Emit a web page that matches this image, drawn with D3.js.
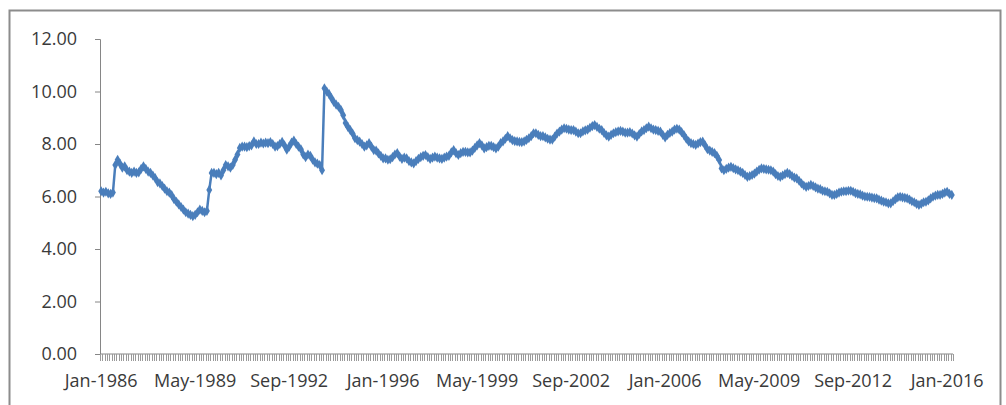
<!DOCTYPE html>
<html>
<head>
<meta charset="utf-8">
<script src="https://cdn.jsdelivr.net/npm/d3@7"></script>
<style>
  body { margin: 0; background: #fff; }
  svg { display: block; }
  .axis text { font-family: "Open Sans", "Liberation Sans", Arial, sans-serif; font-size: 18px; fill: #3a3a3a; }
</style>
</head>
<body>
<svg id="chart" width="1006" height="405"></svg>
<script>
// monthly series, Jan-1986 .. Mar-2016
const startMonth = new Date(1986, 0, 1);
const rates = [
  6.20, 6.15, 6.18, 6.12, 6.10, 6.15, 7.20, 7.40, 7.25, 7.10, 7.15, 7.00, // 1986
  6.95, 6.90, 6.95, 6.90, 6.92, 7.05, 7.15, 7.05, 6.95, 6.90, 6.80, 6.70, // 1987
  6.55, 6.50, 6.40, 6.30, 6.20, 6.15, 6.05, 5.90, 5.80, 5.70, 5.60, 5.50, // 1988
  5.40, 5.35, 5.30, 5.25, 5.30, 5.40, 5.50, 5.45, 5.40, 5.45, 6.25, 6.90, // 1989
  6.90, 6.85, 6.90, 6.80, 7.00, 7.20, 7.15, 7.10, 7.20, 7.40, 7.60, 7.85, // 1990
  7.90, 7.90, 7.88, 7.92, 7.95, 8.10, 8.00, 8.00, 8.05, 8.02, 8.05, 8.03, // 1991
  8.07, 8.00, 7.90, 7.92, 8.00, 8.08, 7.95, 7.78, 7.90, 8.05, 8.13, 8.00, // 1992
  7.90, 7.80, 7.60, 7.50, 7.60, 7.55, 7.40, 7.30, 7.25, 7.20, 7.00, 10.12, // 1993
  10.00, 9.90, 9.75, 9.60, 9.50, 9.42, 9.30, 9.10, 8.80, 8.65, 8.53, 8.40, // 1994
  8.22, 8.15, 8.09, 8.00, 7.90, 7.95, 8.03, 7.90, 7.77, 7.75, 7.64, 7.55, // 1995
  7.45, 7.45, 7.40, 7.42, 7.50, 7.60, 7.65, 7.52, 7.43, 7.48, 7.45, 7.35, // 1996
  7.30, 7.26, 7.35, 7.43, 7.50, 7.55, 7.58, 7.50, 7.43, 7.48, 7.52, 7.48, // 1997
  7.45, 7.43, 7.48, 7.52, 7.55, 7.68, 7.77, 7.65, 7.58, 7.65, 7.70, 7.70, // 1998
  7.68, 7.68, 7.75, 7.85, 7.95, 8.03, 7.95, 7.83, 7.88, 7.93, 7.93, 7.88, // 1999
  7.83, 7.90, 8.03, 8.10, 8.20, 8.30, 8.22, 8.15, 8.11, 8.10, 8.08, 8.07, // 2000
  8.10, 8.16, 8.22, 8.30, 8.41, 8.41, 8.35, 8.30, 8.30, 8.25, 8.20, 8.17, // 2001
  8.17, 8.28, 8.40, 8.47, 8.55, 8.60, 8.58, 8.55, 8.53, 8.53, 8.47, 8.41, // 2002
  8.41, 8.48, 8.52, 8.55, 8.62, 8.68, 8.72, 8.65, 8.58, 8.53, 8.42, 8.33, // 2003
  8.28, 8.35, 8.41, 8.45, 8.48, 8.50, 8.47, 8.43, 8.43, 8.45, 8.40, 8.33, // 2004
  8.28, 8.38, 8.48, 8.53, 8.60, 8.66, 8.60, 8.55, 8.53, 8.50, 8.47, 8.35, // 2005
  8.25, 8.35, 8.42, 8.47, 8.55, 8.58, 8.55, 8.45, 8.34, 8.20, 8.10, 8.03, // 2006
  8.00, 7.97, 8.02, 8.07, 8.09, 7.95, 7.80, 7.75, 7.70, 7.65, 7.55, 7.39, // 2007
  7.07, 7.00, 7.05, 7.10, 7.13, 7.08, 7.03, 7.00, 6.95, 6.90, 6.82, 6.75, // 2008
  6.78, 6.82, 6.87, 6.95, 7.02, 7.07, 7.05, 7.03, 7.02, 7.00, 6.95, 6.85, // 2009
  6.78, 6.75, 6.80, 6.85, 6.90, 6.85, 6.78, 6.72, 6.69, 6.60, 6.50, 6.42, // 2010
  6.37, 6.40, 6.44, 6.40, 6.35, 6.30, 6.28, 6.22, 6.20, 6.18, 6.12, 6.06, // 2011
  6.06, 6.10, 6.15, 6.18, 6.20, 6.20, 6.22, 6.22, 6.18, 6.13, 6.10, 6.08, // 2012
  6.03, 6.00, 5.99, 5.98, 5.96, 5.94, 5.93, 5.88, 5.84, 5.80, 5.78, 5.74, // 2013
  5.74, 5.82, 5.90, 5.97, 5.99, 5.97, 5.95, 5.93, 5.88, 5.82, 5.78, 5.72, // 2014
  5.68, 5.72, 5.78, 5.80, 5.85, 5.93, 5.99, 6.03, 6.06, 6.06, 6.10, 6.15, // 2015
  6.18, 6.10, 6.06                                                        // 2016
];
const yTicks = [0, 2, 4, 6, 8, 10, 12];
const labelEvery = 40; // a label every 40 months

const fmt = d3.timeFormat("%b-%Y");
const months = rates.map((_, i) => fmt(d3.timeMonth.offset(startMonth, i)));
const data = rates.map((v, i) => ({ month: months[i], value: v }));

const svg = d3.select("#chart");

// outer chart-area border
svg.append("rect")
  .attr("x", 9.5).attr("y", 10.5)
  .attr("width", 991).attr("height", 420)
  .attr("fill", "none")
  .attr("stroke", "#8c8c8c")
  .attr("stroke-width", 2);

const plot = { left: 100, right: 953, top: 39, bottom: 354 };

const x = d3.scaleBand().domain(months).range([plot.left, plot.right]).padding(0);
const y = d3.scaleLinear().domain([0, 12]).range([plot.bottom, plot.top]);

// y axis
const yAxis = svg.append("g")
  .attr("class", "axis")
  .attr("transform", `translate(${plot.left},0)`)
  .call(d3.axisLeft(y).tickValues(yTicks).tickFormat(d3.format(".2f")).tickSize(5).tickPadding(18));
yAxis.select(".domain").attr("stroke", "#868686");
yAxis.selectAll(".tick line").attr("stroke", "#868686");

// x axis: ticks between every category, labels every 40 months
const xAxis = svg.append("g")
  .attr("class", "axis")
  .attr("transform", `translate(0,${plot.bottom})`);
xAxis.append("line")
  .attr("x1", plot.left).attr("x2", plot.right)
  .attr("stroke", "#868686");
const edges = months.map(m => x(m)).concat([plot.right]);
xAxis.selectAll("line.tk")
  .data(edges)
  .join("line")
  .attr("class", "tk")
  .attr("x1", d => Math.round(d) + 0.5).attr("x2", d => Math.round(d) + 0.5)
  .attr("y1", 0).attr("y2", 7)
  .attr("stroke", "#9a9a9a")
  .attr("stroke-width", 1);
xAxis.selectAll("text")
  .data(months.filter((_, i) => i % labelEvery === 0))
  .join("text")
  .attr("x", d => x(d) + x.bandwidth() / 2)
  .attr("y", 33)
  .attr("text-anchor", "middle")
  .text(d => d);

// series line
const line = d3.line()
  .x(d => x(d.month) + x.bandwidth() / 2)
  .y(d => y(d.value));

svg.append("path")
  .datum(data)
  .attr("fill", "none")
  .attr("stroke", "#4a7ebb")
  .attr("stroke-width", 2.5)
  .attr("stroke-linejoin", "round")
  .attr("d", line);

// diamond markers
const diamond = d3.symbol().type(d3.symbolDiamond).size(30);
svg.append("g")
  .selectAll("path")
  .data(data)
  .join("path")
  .attr("transform", d => `translate(${x(d.month) + x.bandwidth() / 2},${y(d.value)})`)
  .attr("d", diamond)
  .attr("fill", "#4a7ebb");
</script>
</body>
</html>
